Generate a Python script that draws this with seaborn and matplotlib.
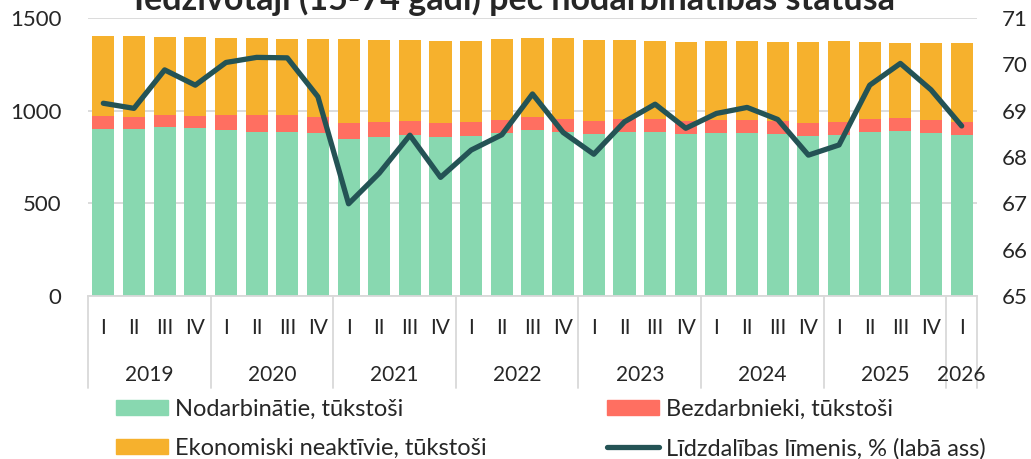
import numpy as np
import pandas as pd
import matplotlib
matplotlib.use("Agg")
import matplotlib.pyplot as plt
import matplotlib.transforms as mtransforms
from matplotlib.patches import Patch
from matplotlib.lines import Line2D
import seaborn as sns

# quarters 2019 Q1 .. 2026 Q1
years = ["2019", "2020", "2021", "2022", "2023", "2024", "2025", "2026"]
quarters = ["I", "II", "III", "IV"] * 7 + ["I"]

# thousands of people
employed = [900, 903, 914, 908, 896, 887, 887, 881, 847, 856, 871, 860, 865, 880,
            896, 885, 876, 883, 887, 874, 878, 878, 876, 862, 867, 885, 889, 881, 869]
unemployed = [73, 65, 65, 65, 83, 92, 92, 83, 85, 81, 75, 72, 74, 68,
              72, 72, 67, 70, 70, 72, 73, 72, 70, 72, 72, 70, 72, 69, 70]
inactive = [432, 435, 421, 423, 415, 411, 410, 423, 455, 445, 436, 444, 437, 437,
            424, 435, 439, 427, 419, 427, 425, 424, 427, 435, 435, 414, 406, 414, 425]
# participation rate, % (right axis)
rate = [69.16, 69.05, 69.88, 69.55, 70.04, 70.15, 70.14, 69.30, 66.99, 67.65, 68.47, 67.56, 68.15, 68.48,
        69.36, 68.53, 68.06, 68.76, 69.14, 68.62, 68.94, 69.07, 68.81, 68.04, 68.26, 69.55, 70.02, 69.45, 68.67]

c_emp = "#88d8b0"
c_unemp = "#ff6f61"
c_inact = "#f6b12d"
c_line = "#245355"

sns.set_style("white")
plt.rcParams["font.family"] = ["Lato", "DejaVu Sans"]

n = len(quarters)
labels = [f"q{i}" for i in range(n)]
df = pd.DataFrame({"q": labels, "emp": employed, "unemp": unemployed, "inact": inactive})
df["lvl2"] = df["emp"] + df["unemp"]
df["lvl3"] = df["lvl2"] + df["inact"]

fig = plt.figure(figsize=(10.31, 4.59), dpi=100)
ax = fig.add_axes([88 / 1031, 1 - 296 / 459, (977 - 88) / 1031, (296 - 18) / 459])

# stacked look: draw totals first, then overlay the lower parts
for col, colr in [("lvl3", c_inact), ("lvl2", c_unemp), ("emp", c_emp)]:
    sns.barplot(data=df, x="q", y=col, color=colr, saturation=1, width=0.72,
                linewidth=0, ax=ax, order=labels)

ax.set_xlim(-0.5, n - 0.5)
ax.set_ylim(0, 1500)
ax.set_yticks([0, 500, 1000, 1500])
ax.set_xticks([])
ax.set_xlabel("")
ax.set_ylabel("")
ax.yaxis.grid(True, color="#d9d9d9", lw=1.3)
ax.set_axisbelow(True)
ax.tick_params(axis="y", length=0, pad=19, labelsize=16)
for s in ["top", "right", "left"]:
    ax.spines[s].set_visible(False)
ax.spines["bottom"].set_color("#d9d9d9")
ax.spines["bottom"].set_linewidth(1.3)

ax2 = ax.twinx()
sns.lineplot(x=np.arange(n), y=rate, ax=ax2, color=c_line, lw=3.8)
ax2.set_ylim(65, 71)
ax2.set_yticks(range(65, 72))
ax2.tick_params(axis="y", length=0, pad=18, labelsize=16)
ax2.set_xlim(-0.5, n - 0.5)
for s in ax2.spines.values():
    s.set_visible(False)

# two-level category axis
trans = mtransforms.blended_transform_factory(ax.transData, ax.transAxes)
for i, q in enumerate(quarters):
    ax.text(i, -0.115, q, transform=trans, ha="center", va="center", fontsize=15)
bounds = [-0.5 + 4 * k for k in range(8)] + [n - 0.5]
for b in bounds:
    ax.plot([b, b], [0, -0.331], transform=trans, color="#d9d9d9", lw=1.3, clip_on=False)
for k, y in enumerate(years):
    lo, hi = bounds[k], bounds[k + 1]
    ax.text((lo + hi) / 2, -0.284, y, transform=trans, ha="center", va="center", fontsize=15)

fig.text(515 / 1031, 1 - 10 / 459, "Iedzīvotāji (15-74 gadi) pēc nodarbinātības statusa",
         ha="center", va="baseline", fontsize=24.5, fontweight="bold")

handles = [Patch(color=c_emp), Patch(color=c_inact), Patch(color=c_unemp),
           Line2D([], [], color=c_line, lw=3.8)]
names = ["Nodarbinātie, tūkstoši", "Ekonomiski neaktīvie, tūkstoši",
         "Bezdarbnieki, tūkstoši", "Līdzdalības līmenis, % (labā ass)"]
fig.legend(handles, names, ncol=2, loc="upper left", bbox_to_anchor=(116 / 1031, 1 - 399 / 459),
           frameon=False, fontsize=17, handlelength=2.2, handleheight=0.6, handletextpad=0.3,
           columnspacing=5.1, labelspacing=0.75, borderaxespad=0, borderpad=0)

fig.savefig("out.png", dpi=100)
